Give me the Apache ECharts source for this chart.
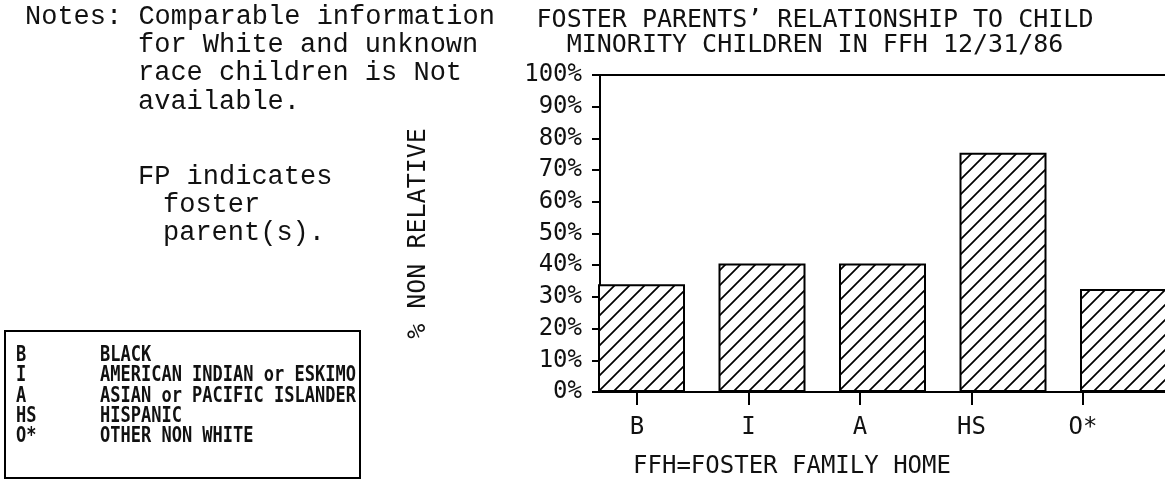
<!DOCTYPE html>
<html>
<head>
<meta charset="utf-8">
<script src="https://cdn.jsdelivr.net/npm/echarts@6/dist/echarts.min.js"></script>
<style>html,body{margin:0;padding:0;background:#fff}#c{width:1165px;height:488px}</style>
</head>
<body>
<div id="c"></div>
<script>
// ---- data ----
const categories = ['B', 'I', 'A', 'HS', 'O*'];
const values = [34, 40.5, 40.5, 75.5, 32.5];
const titleLines = ['FOSTER PARENTS\u2019 RELATIONSHIP TO CHILD', 'MINORITY CHILDREN IN FFH 12/31/86'];
const xName = 'FFH=FOSTER FAMILY HOME';
const yName = '% NON RELATIVE';
const notesLines = ['Notes: Comparable information', 'for White and unknown', 'race children is Not', 'available.', 'FP indicates', 'foster', 'parent(s).'];
const legendCodes = ['B', 'I', 'A', 'HS', 'O*'];
const legendNames = ['BLACK', 'AMERICAN INDIAN or ESKIMO', 'ASIAN or PACIFIC ISLANDER', 'HISPANIC', 'OTHER NON WHITE'];

// ---- hatch pattern ----
const pc = document.createElement('canvas');
pc.width = 15; pc.height = 15;
const ctx = pc.getContext('2d');
ctx.fillStyle = '#fff'; ctx.fillRect(0, 0, 15, 15);
ctx.strokeStyle = '#000'; ctx.lineWidth = 1.7;
ctx.beginPath();
ctx.moveTo(-1, 16); ctx.lineTo(16, -1);
ctx.moveTo(-3, 3); ctx.lineTo(3, -3);
ctx.moveTo(12, 18); ctx.lineTo(18, 12);
ctx.stroke();

const MONO = 'DejaVu Sans Mono';
const ink = '#111';

const notesPos = [[25, 17], [138, 45], [138, 73], [138, 102], [138, 177], [163, 205], [163, 233]];
const graphics = [];
notesLines.forEach((t, i) => {
  graphics.push({type: 'text', x: notesPos[i][0], y: notesPos[i][1],
    style: {text: t, font: '27px "Liberation Mono"', fill: ink, textVerticalAlign: 'middle'}});
});
const legendY = [355, 375, 396, 416, 436];
legendCodes.forEach((t, i) => {
  graphics.push({type: 'text', x: 16, y: legendY[i], scaleY: 1.25,
    style: {text: t, font: 'bold 17px "DejaVu Sans Mono"', fill: ink, textVerticalAlign: 'middle'}});
  graphics.push({type: 'text', x: 100, y: legendY[i], scaleY: 1.25,
    style: {text: legendNames[i], font: 'bold 17px "DejaVu Sans Mono"', fill: ink, textVerticalAlign: 'middle'}});
});
graphics.push({type: 'rect', shape: {x: 5, y: 331, width: 355, height: 147},
  style: {fill: 'none', stroke: '#000', lineWidth: 2}});
graphics.push({type: 'text', x: 792, y: 467,
  style: {text: xName, font: '24px "DejaVu Sans Mono"', fill: ink, textAlign: 'center', textVerticalAlign: 'middle'}});

const chart = echarts.init(document.getElementById('c'), null, {renderer: 'canvas'});
chart.setOption({
  animation: false,
  backgroundColor: '#fff',
  title: {
    text: titleLines.join('\n'),
    left: 815, top: 8, padding: 0, textAlign: 'center',
    textStyle: {fontFamily: MONO, fontSize: 25, fontWeight: 'normal', color: ink, lineHeight: 25}
  },
  graphic: graphics,
  grid: [
    {left: 600, top: 75, width: 565, height: 317},
    {left: 581.25, top: 75, width: 557.5, height: 317},
    {left: 641.5, top: 75, width: 482, height: 317}
  ],
  xAxis: [
    {gridIndex: 0, type: 'value', min: 0, max: 1, position: 'bottom',
      axisLine: {show: true, lineStyle: {color: '#000', width: 2}}, axisTick: {show: false}, axisLabel: {show: false}, splitLine: {show: false}},
    {gridIndex: 0, type: 'value', min: 0, max: 1, position: 'top',
      axisLine: {show: true, lineStyle: {color: '#000', width: 2}}, axisTick: {show: false}, axisLabel: {show: false}, splitLine: {show: false}},
    {gridIndex: 1, type: 'category', data: categories, position: 'bottom',
      axisLine: {show: false}, axisTick: {show: true, alignWithLabel: true, length: 13, lineStyle: {color: '#000', width: 2}},
      axisLabel: {margin: 24, fontFamily: MONO, fontSize: 24, color: ink}, splitLine: {show: false}},
    {gridIndex: 2, type: 'category', data: categories, boundaryGap: false, show: false}
  ],
  yAxis: [
    {gridIndex: 0, type: 'value', min: 0, max: 100, interval: 10,
      name: yName, nameLocation: 'middle', nameGap: 169,
      nameTextStyle: {fontFamily: MONO, fontSize: 25, color: ink},
      axisLine: {show: true, lineStyle: {color: '#000', width: 2}},
      axisTick: {show: true, length: 8, lineStyle: {color: '#000', width: 2}},
      axisLabel: {margin: 18, fontFamily: MONO, fontSize: 24, color: ink, formatter: '{value}%'},
      splitLine: {show: false}},
    {gridIndex: 1, type: 'value', min: 0, max: 100, show: false},
    {gridIndex: 2, type: 'value', min: 0, max: 100, show: false}
  ],
  series: [{
    type: 'bar', xAxisIndex: 3, yAxisIndex: 2, data: values, barWidth: 87, clip: false,
    itemStyle: {color: {image: pc, repeat: 'repeat'}, borderColor: '#000', borderWidth: 2},
    emphasis: {disabled: true}
  }]
});
</script>
</body>
</html>
